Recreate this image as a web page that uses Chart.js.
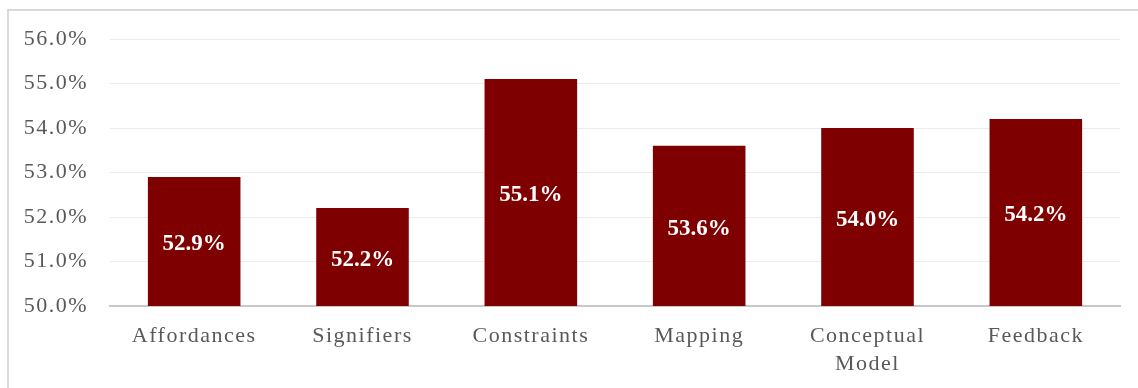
<!DOCTYPE html>
<html>
<head>
<meta charset="utf-8">
<script src="https://cdn.jsdelivr.net/npm/chart.js@4"></script>
<style>
  html, body { margin: 0; padding: 0; background: #fff; }
  #wrap { position: relative; width: 1138px; height: 388px; overflow: hidden; }
  #frame { position: absolute; left: 7px; top: 9px; width: 1150px; height: 400px;
           border-top: 2px solid #d9d9d9; border-left: 2px solid #d9d9d9; }
  #myChart { position: absolute; left: 0; top: 0; }
</style>
</head>
<body>
<div id="wrap">
  <div id="frame"></div>
  <canvas id="myChart" width="1138" height="388"></canvas>
</div>
<script>
// categories and the share for each one (percent)
const categories = ['Affordances', 'Signifiers', 'Constraints', 'Mapping', ['Conceptual', 'Model'], 'Feedback'];
const shares = [52.9, 52.2, 55.1, 53.6, 54.0, 54.2];
const yTicks = [50, 51, 52, 53, 54, 55, 56];

const serif = "'Liberation Serif', 'Times New Roman', serif";

// white value text in the middle of the visible part of each bar
const barLabels = {
  id: 'barLabels',
  afterDatasetsDraw(chart) {
    const c = chart.ctx;
    const meta = chart.getDatasetMeta(0);
    const bottom = chart.chartArea.bottom;
    c.save();
    c.letterSpacing = '0px';
    c.fillStyle = '#ffffff';
    c.font = 'bold 23px ' + serif;
    c.textAlign = 'center';
    c.textBaseline = 'middle';
    meta.data.forEach(function(bar, i) {
      const mid = (bar.y + Math.min(bar.base, bottom)) / 2;
      c.fillText(shares[i].toFixed(1) + '%', bar.x, mid + 3);
    });
    c.restore();
  }
};

// spread the axis text a little
const axisSpacing = {
  id: 'axisSpacing',
  beforeDraw(chart) { chart.ctx.letterSpacing = '1.5px'; },
  beforeDatasetsDraw(chart) { chart.ctx.letterSpacing = '0px'; }
};

const myChart = new Chart(document.getElementById('myChart'), {
  type: 'bar',
  data: {
    labels: categories,
    datasets: [{
      data: shares,
      backgroundColor: '#7f0000',
      borderWidth: 0,
      barPercentage: 0.55,
      categoryPercentage: 1.0
    }]
  },
  options: {
    responsive: false,
    maintainAspectRatio: false,
    animation: false,
    layout: { padding: { top: 39, right: 18, left: 0, bottom: 0 } },
    plugins: {
      legend: { display: false },
      tooltip: { enabled: false }
    },
    scales: {
      x: {
        grid: { display: false, drawTicks: false },
        border: { color: '#c8c8c8', width: 2 },
        ticks: {
          color: '#595959',
          font: { family: serif, size: 22, lineHeight: 1.27 },
          padding: 16,
          maxRotation: 0,
          autoSkip: false
        },
        afterFit(scale) { scale.height = 82; }
      },
      y: {
        min: 50,
        max: 56,
        afterBuildTicks(scale) { scale.ticks = yTicks.map(v => ({ value: v })); },
        grid: { color: '#ececec', lineWidth: 1, drawTicks: false },
        border: { display: false },
        ticks: {
          color: '#595959',
          font: { family: serif, size: 22 },
          padding: 22,
          callback: v => v.toFixed(1) + '%'
        },
        afterFit(scale) { scale.width = 110; }
      }
    }
  },
  plugins: [axisSpacing, barLabels]
});
</script>
</body>
</html>
